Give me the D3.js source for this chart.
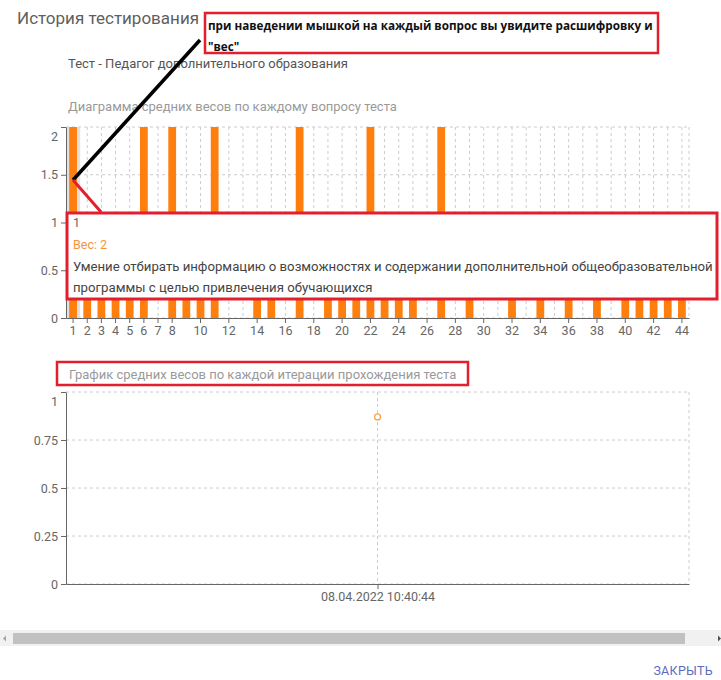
<!DOCTYPE html>
<html>
<head>
<meta charset="utf-8">
<script src="https://cdn.jsdelivr.net/npm/d3@7"></script>
<style>
  body { margin: 0; background: #fff; }
  svg { display: block; font-family: Roboto, sans-serif; }
</style>
</head>
<body>
<svg id="chart" width="721" height="680"></svg>
<script>
// data
var questions = d3.range(1, 45).map(String);
var avgWeights = [2, 1, 1, 1, 1, 2, 0, 2, 1, 1, 2, 0, 0, 1, 1, 0, 2, 0, 1, 1, 1, 2,
                  1, 1, 1, 0, 2, 0, 1, 0, 0, 1, 0, 1, 0, 1, 0, 1, 0, 1, 1, 1, 1, 1];
var xTickLabels = ["1", "2", "3", "4", "5", "6", "7", "8", "10", "12", "14", "16", "18", "20",
                   "22", "24", "26", "28", "30", "32", "34", "36", "38", "40", "42", "44"];
var barYTicks = [0, 0.5, 1, 1.5, 2];

var iterations = ["08.04.2022 10:40:44"];
var iterationAvg = [0.87];
var lineYTicks = [0, 0.25, 0.5, 0.75, 1];

var tooltipLines = ["Умение отбирать информацию о возможностях и содержании дополнительной общеобразовательной",
                    "программы с целью привлечения обучающихся"];

var svg = d3.select("#chart");
var RED = "#e31e2d", ORANGE = "#ff7f0e";

// headers
svg.append("text").attr("x", 17).attr("y", 24).attr("font-size", 17).attr("fill", "#5f5f5f")
    .text("История тестирования");
svg.append("text").attr("x", 68).attr("y", 68).attr("font-size", 13).attr("fill", "#555")
    .text("Тест - Педагог дополнительного образования");
svg.append("text").attr("x", 68).attr("y", 111).attr("font-size", 13).attr("fill", "#9a9a9a")
    .text("Диаграмма средних весов по каждому вопросу теста");

// ---- bar chart ----
var left = 66, right = 689;
var x = d3.scaleBand().domain(questions).range([left, right]).paddingInner(0.45).paddingOuter(0.225);
var y = d3.scaleLinear().domain([0, 2]).range([318, 127]);
var step = x.step();
function cx(q) { return x(q) + x.bandwidth() / 2; }

var g1 = svg.append("g");
// grid
g1.selectAll(".hg").data(barYTicks).enter().append("line")
    .attr("x1", left).attr("x2", right).attr("y1", d => y(d)).attr("y2", d => y(d))
    .attr("stroke", "#ccc").attr("stroke-dasharray", "3 3");
g1.selectAll(".vg").data(questions).enter().append("line")
    .attr("x1", d => cx(d)).attr("x2", d => cx(d)).attr("y1", y(2)).attr("y2", y(0))
    .attr("stroke", "#ccc").attr("stroke-dasharray", "3 3");
g1.append("line").attr("x1", right).attr("x2", right).attr("y1", y(2)).attr("y2", y(0))
    .attr("stroke", "#ccc").attr("stroke-dasharray", "3 3");

// hover cursor on first question
g1.append("rect").attr("x", cx(questions[0]) - step / 2).attr("y", y(2))
    .attr("width", step).attr("height", y(0) - y(2)).attr("fill", "#d9d9d9").attr("opacity", 0.8);

g1.selectAll(".bar").data(questions).enter().append("rect")
    .attr("class", "bar")
    .attr("x", d => x(d))
    .attr("width", x.bandwidth())
    .attr("y", (d, i) => y(avgWeights[i]))
    .attr("height", (d, i) => y(0) - y(avgWeights[i]))
    .attr("fill", ORANGE);

var ay1 = g1.append("g").attr("transform", "translate(" + left + ",0)")
    .call(d3.axisLeft(y).tickValues(barYTicks).tickSize(5).tickSizeOuter(0).tickFormat(d => String(d)));
var ax1 = g1.append("g").attr("transform", "translate(0," + y(0) + ")")
    .call(d3.axisBottom(x).tickValues(xTickLabels).tickSize(5).tickSizeOuter(0));
[ay1, ax1].forEach(a => {
  a.selectAll("path,line").attr("stroke", "#666");
  a.selectAll("text").attr("fill", "#666").attr("font-size", 12.5).attr("font-family", "Roboto, sans-serif");
});
ay1.selectAll(".tick text").filter(d => d === 2).attr("dy", "1.1em");

// tooltip
var tip = svg.append("g");
tip.append("rect").attr("x", 67).attr("y", 213).attr("width", 650).attr("height", 86)
    .attr("fill", "#fff").attr("stroke", RED).attr("stroke-width", 3);
tip.append("text").attr("x", 73).attr("y", 227).attr("font-size", 12.5).attr("fill", "#666").text(questions[0]);
tip.append("text").attr("x", 73).attr("y", 249).attr("font-size", 12.5).attr("fill", "#f5943c")
    .text("Вес: " + avgWeights[0]);
tip.selectAll(".tl").data(tooltipLines).enter().append("text")
    .attr("x", 73).attr("y", (d, i) => 271 + i * 21).attr("font-size", 13.2).attr("fill", "#444").text(d => d);

// annotation
svg.append("line").attr("x1", 200).attr("y1", 40).attr("x2", 73).attr("y2", 180)
    .attr("stroke", "#000").attr("stroke-width", 3.5);
svg.append("line").attr("x1", 73).attr("y1", 180).attr("x2", 101).attr("y2", 212)
    .attr("stroke", RED).attr("stroke-width", 3);
svg.append("rect").attr("x", 205).attr("y", 13).attr("width", 453).attr("height", 40)
    .attr("fill", "#fff").attr("stroke", RED).attr("stroke-width", 2.5);
svg.append("text").attr("x", 208).attr("y", 30).attr("font-family", "'Open Sans', sans-serif")
    .attr("font-weight", "bold").attr("font-size", 11.7).attr("fill", "#111")
    .text("при наведении мышкой на каждый вопрос вы увидите расшифровку и");
svg.append("text").attr("x", 208).attr("y", 51).attr("font-family", "'Open Sans', sans-serif")
    .attr("font-weight", "bold").attr("font-size", 11.7).attr("fill", "#111")
    .text("\"вес\"");

// ---- line chart ----
svg.append("rect").attr("x", 57).attr("y", 362).attr("width", 411).attr("height", 23)
    .attr("fill", "none").attr("stroke", RED).attr("stroke-width", 2.5);
svg.append("text").attr("x", 69).attr("y", 379).attr("font-size", 13).attr("fill", "#9a9a9a")
    .text("График средних весов по каждой итерации прохождения теста");

var x2 = d3.scalePoint().domain(iterations).range([left, right]).padding(0.5);
var y2 = d3.scaleLinear().domain([0, 1]).range([584, 392]);
var g2 = svg.append("g");
g2.selectAll(".hg").data(lineYTicks).enter().append("line")
    .attr("x1", left).attr("x2", right).attr("y1", d => y2(d)).attr("y2", d => y2(d))
    .attr("stroke", "#ccc").attr("stroke-dasharray", "3 3");
g2.selectAll(".vg").data(iterations).enter().append("line")
    .attr("x1", d => x2(d)).attr("x2", d => x2(d)).attr("y1", y2(1)).attr("y2", y2(0))
    .attr("stroke", "#ccc").attr("stroke-dasharray", "3 3");
g2.append("line").attr("x1", right).attr("x2", right).attr("y1", y2(1)).attr("y2", y2(0))
    .attr("stroke", "#ccc").attr("stroke-dasharray", "3 3");

var ay2 = g2.append("g").attr("transform", "translate(" + left + ",0)")
    .call(d3.axisLeft(y2).tickValues(lineYTicks).tickSize(5).tickSizeOuter(0).tickFormat(d => String(d)));
var ax2 = g2.append("g").attr("transform", "translate(0," + y2(0) + ")")
    .call(d3.axisBottom(x2).tickSize(5).tickSizeOuter(0));
[ay2, ax2].forEach(a => {
  a.selectAll("path,line").attr("stroke", "#666");
  a.selectAll("text").attr("fill", "#666").attr("font-size", 12.5).attr("font-family", "Roboto, sans-serif");
});
ay2.selectAll(".tick text").filter(d => d === 1).attr("dy", "1.1em");

g2.selectAll(".pt").data(iterations).enter().append("circle")
    .attr("cx", d => x2(d)).attr("cy", (d, i) => y2(iterationAvg[i])).attr("r", 3)
    .attr("fill", "#fff").attr("stroke", "#f5a04a").attr("stroke-width", 1.2);

// scrollbar
svg.append("rect").attr("x", 0).attr("y", 630).attr("width", 721).attr("height", 16).attr("fill", "#f1f1f1");
svg.append("rect").attr("x", 13).attr("y", 633).attr("width", 672).attr("height", 11).attr("fill", "#c1c1c1");
svg.append("path").attr("d", "M3,638.5 L6,635.5 L6,641.5 Z").attr("fill", "#a3a3a3");
svg.append("path").attr("d", "M721,638.5 L718,635.5 L718,641.5 Z").attr("fill", "#505050");

svg.append("text").attr("x", 713).attr("y", 675).attr("text-anchor", "end")
    .attr("font-size", 12.5).attr("fill", "#5c6bc0").attr("letter-spacing", 0.3).text("ЗАКРЫТЬ");
</script>
</body>
</html>
